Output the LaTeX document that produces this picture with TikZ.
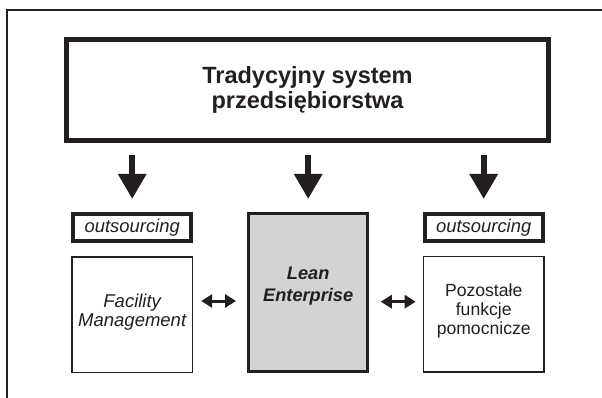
\documentclass[tikz,border=0pt]{standalone}
\usepackage{fontspec}
\setmainfont{Liberation Sans}
\usetikzlibrary{arrows.meta}
\definecolor{ink}{HTML}{231F20}
\definecolor{leangray}{HTML}{D1D3D4}
\begin{document}
\begin{tikzpicture}[x=1pt,y=-1pt,
  box/.style={draw=ink, rectangle, inner sep=0pt, align=center, text=ink},
  lbl/.style={inner sep=0pt, align=center, text=ink},
  down/.style={draw=ink, line width=6pt, -{Triangle[width=27pt,length=25pt]}},
  dbl/.style={draw=ink, line width=3pt, {Triangle[width=13pt,length=11pt]}-{Triangle[width=13pt,length=11pt]}}
]
\useasboundingbox (0,0) rectangle (602,398);
\draw[ink, line width=1.5pt, line join=miter] (7,398) -- (7,10) -- (602,10);

\node[box, line width=5pt, minimum width=482pt, minimum height=101pt,
      font=\fontsize{23.5}{25}\selectfont\bfseries] (top) at (307.5,90)
      {Tradycyjny system\\przedsiębiorstwa};

\node[box, line width=4pt, minimum width=118pt, minimum height=27.6pt,
      font=\fontsize{18.4}{20}\selectfont\itshape] (outL) at (132.2,227.5) {outsourcing};
\node[box, line width=4pt, minimum width=118pt, minimum height=27.6pt,
      font=\fontsize{18.4}{20}\selectfont\itshape] (outR) at (483.7,227.5) {outsourcing};

\node[box, line width=1.5pt, minimum width=120.5pt, minimum height=115.5pt] (fm) at (132.2,314.5) {};
\node[box, line width=3pt, fill=leangray, minimum width=119.3pt, minimum height=158pt] (lean) at (308.2,292.8) {};
\node[box, line width=1.5pt, minimum width=120.5pt, minimum height=115.5pt] (pz) at (483.7,314) {};

\node[lbl, font=\fontsize{18.5}{18.7}\selectfont\itshape] (fmT) at (132.2,312) {Facility\\Management};
\node[lbl, font=\fontsize{18.2}{21.7}\selectfont\bfseries\itshape] (leanT) at (308.2,285.8) {Lean\\Enterprise};
\node[lbl, font=\fontsize{17.6}{18.7}\selectfont] (pzT) at (483.7,311) {Pozostałe\\funkcje\\pomocnicze};

\draw[down, shorten <=12pt, shorten >=12.7pt] (top.south -| outL.north) -- (outL.north);
\draw[down, shorten <=12pt, shorten >=13.3pt] (top.south -| lean.north) -- (lean.north);
\draw[down, shorten <=12pt, shorten >=12.7pt] (top.south -| outR.north) -- (outR.north);

\draw[dbl, shorten <=8pt, shorten >=11pt] ([yshift=13.5pt]fm.east) -- ([yshift=13.5pt]fm.east -| lean.west);
\draw[dbl, shorten <=11.4pt, shorten >=7pt] ([yshift=-8.9pt]lean.east) -- ([yshift=-8.9pt]lean.east -| pz.west);
\end{tikzpicture}
\end{document}
